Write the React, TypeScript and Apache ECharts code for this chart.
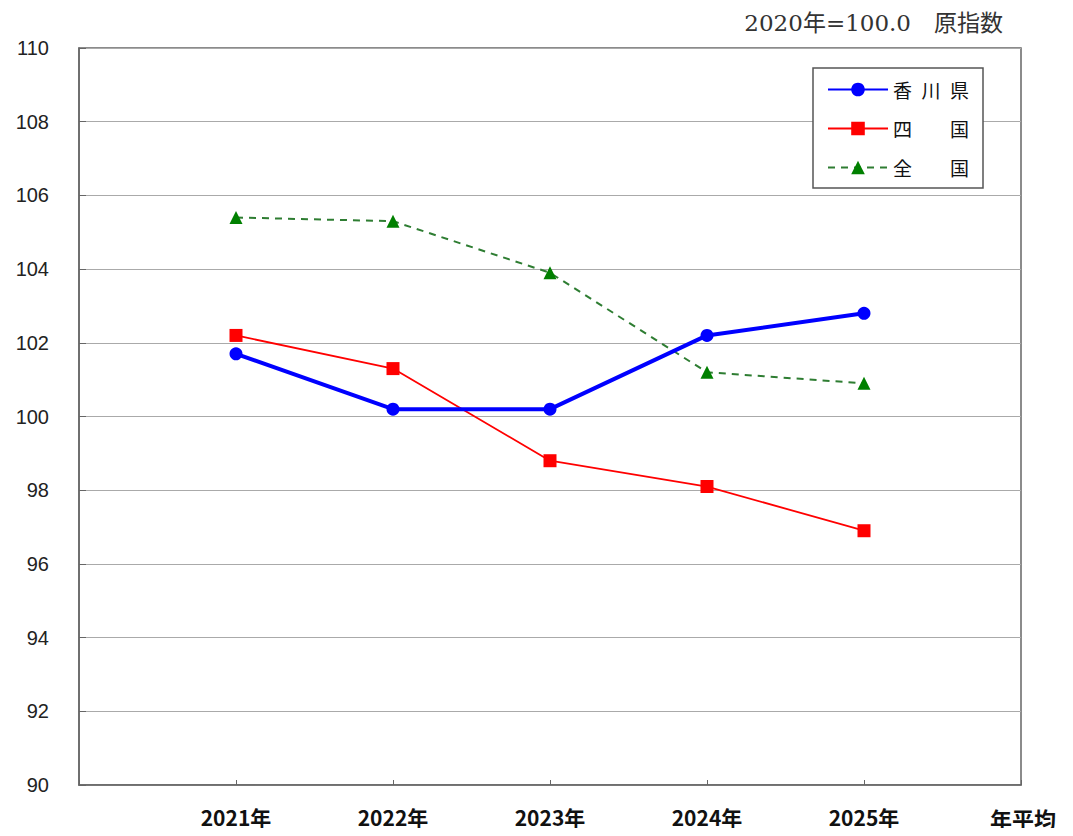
import React, { useEffect, useRef } from "react";
import * as echarts from "echarts";

const categories = ["", "2021年", "2022年", "2023年", "2024年", "2025年", ""];
const kagawa = [null, 101.7, 100.2, 100.2, 102.2, 102.8, null];
const shikoku = [null, 102.2, 101.3, 98.8, 98.1, 96.9, null];
const zenkoku = [null, 105.4, 105.3, 103.9, 101.2, 100.9, null];
const seriesNames = ["香川県", "四国", "全国"];
const legendLabels: Record<string, string> = {
  香川県: "香\u2002川\u2002県",
  四国: "四\u3000\u3000国",
  全国: "全\u3000\u3000国",
};

const CJK = '"Noto Sans CJK JP", "Noto Sans", sans-serif';

export default function App() {
  const ref = useRef<HTMLDivElement>(null);
  useEffect(() => {
    if (!ref.current) return;
    const chart = echarts.init(ref.current, null, { renderer: "svg" });
    chart.setOption({
      animation: false,
      backgroundColor: "#ffffff",
      grid: {
        left: 79,
        right: 52,
        top: 48,
        bottom: 51,
        show: true,
        borderColor: "#666",
        borderWidth: 1.5,
      },
      legend: {
        data: seriesNames,
        orient: "vertical",
        left: 813,
        top: 68,
        width: 173,
        padding: [12, 14, 11, 14],
        itemWidth: 60,
        itemHeight: 17,
        itemGap: 20,
        backgroundColor: "#fff",
        borderColor: "#555",
        borderWidth: 1.5,
        formatter: (n: string) => legendLabels[n] || n,
        textStyle: { fontFamily: CJK, fontSize: 19, color: "#111" },
      },
      xAxis: {
        type: "category",
        data: categories,
        boundaryGap: false,
        axisLine: { lineStyle: { color: "#666", width: 1.5 } },
        axisTick: { inside: true, length: 5, lineStyle: { color: "#666" } },
        axisLabel: {
          interval: 0,
          margin: 21,
          fontFamily: CJK,
          fontSize: 21,
          fontWeight: "bold",
          color: "#111",
        },
        splitLine: { show: false },
      },
      yAxis: {
        type: "value",
        min: 90,
        max: 110,
        interval: 2,
        axisLine: { show: true, lineStyle: { color: "#666", width: 1.5 } },
        axisTick: { show: true, inside: true, length: 7, lineStyle: { color: "#666" } },
        axisLabel: {
          margin: 30,
          fontFamily: "Arial, Liberation Sans, sans-serif",
          fontSize: 20,
          color: "#222",
        },
        splitLine: { show: true, lineStyle: { color: "#aaa", width: 1.2 } },
      },
      series: [
        {
          name: "香川県",
          type: "line",
          data: kagawa,
          color: "#0000ff",
          lineStyle: { width: 4, color: "#0000ff" },
          symbol: "circle",
          symbolSize: 13,
          itemStyle: { color: "#0000ff" },
          z: 5,
        },
        {
          name: "四国",
          type: "line",
          data: shikoku,
          color: "#ff0000",
          lineStyle: { width: 1.8, color: "#ff0000" },
          symbol: "rect",
          symbolSize: 13,
          itemStyle: { color: "#ff0000" },
          z: 4,
        },
        {
          name: "全国",
          type: "line",
          data: zenkoku,
          color: "#008000",
          lineStyle: { width: 2, color: "#2e7d32", type: [7, 6] },
          symbol: "triangle",
          symbolSize: 13,
          itemStyle: { color: "#008000" },
          z: 3,
        },
      ],
      graphic: [
        {
          type: "text",
          right: 70,
          top: 11,
          style: {
            text: "2020年=100.0\u3000原指数",
            font: '23px "DejaVu Serif", "Noto Sans CJK JP", serif',
            fill: "#333",
          },
        },
        {
          type: "text",
          left: 990,
          top: 807,
          style: {
            text: "年平均",
            font: 'bold 22px "Noto Sans CJK JP", sans-serif',
            fill: "#111",
          },
        },
      ],
    });
    return () => chart.dispose();
  }, []);
  return <div ref={ref} style={{ width: 1073, height: 836, margin: -8 }} />;
}
